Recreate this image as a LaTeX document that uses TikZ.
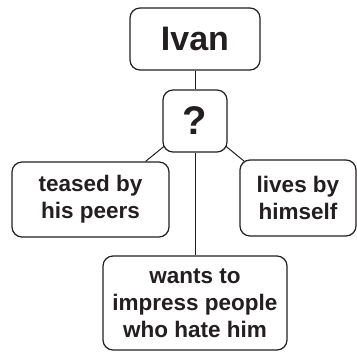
\documentclass[tikz,border=0pt]{standalone}
\usepackage{fontspec}
\setmainfont{Liberation Sans}
\usetikzlibrary{backgrounds}
\definecolor{ink}{HTML}{231F20}
\begin{document}
\begin{tikzpicture}[x=1pt,y=-1pt,
  box/.style={draw=ink,line width=1.2pt,rounded corners=10pt,fill=white,inner sep=0pt,
    align=center,text=ink,font=\bfseries\fontsize{22.5}{27}\selectfont},
  link/.style={draw=ink,line width=1pt}]
\useasboundingbox (0,0) rectangle (357,352);
\node[box,minimum width=130pt,minimum height=62pt,font=\bfseries\fontsize{34}{36}\selectfont] (ivan) at (195,39) {Ivan};
\node[box,minimum width=64pt,minimum height=62pt,font=\bfseries\fontsize{40}{42}\selectfont] (q) at (195,121) {?};
\node[box,minimum width=157pt,minimum height=75pt] (teased) at (90.5,199.5) {teased by\\his peers};
\node[box,minimum width=116pt,minimum height=76pt] (lives) at (298,198) {lives by\\himself};
\node[box,minimum width=184pt,minimum height=94pt] (wants) at (195,303) {wants to\\impress people\\who hate him};
\begin{scope}[on background layer]
\draw[link] (ivan) -- (q);
\draw[link] (q) -- (wants);
\draw[link] (q.center) -- ([xshift=-24pt]teased.north east);
\draw[link] (q.center) -- ([xshift=5pt,yshift=-2pt]lives.north west);
\end{scope}
\end{tikzpicture}
\end{document}
